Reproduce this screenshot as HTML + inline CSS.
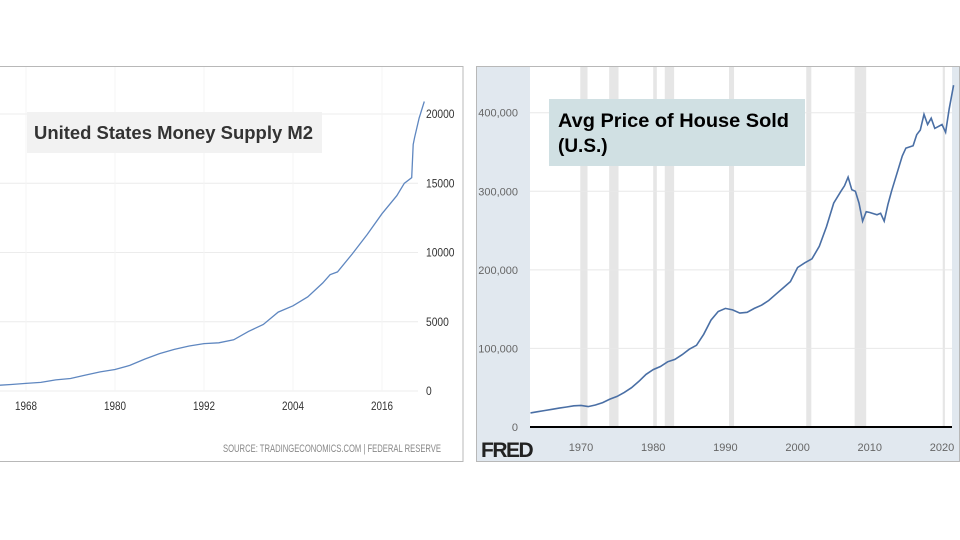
<!DOCTYPE html>
<html><head><meta charset="utf-8">
<style>
body{margin:0;width:960px;height:540px;background:#fff;overflow:hidden;font-family:"Liberation Sans",sans-serif}
svg{position:absolute;left:0;top:0}
</style></head>
<body>
<svg width="960" height="540">
<g id="left">
<rect x="-1" y="66.5" width="464" height="395" fill="#fff" stroke="#b8b8b8"/>
<g id="lgrid"></g>
<rect x="27" y="112" width="295" height="41" fill="#f2f2f2"/>
<text x="34" y="139" font-size="18" font-weight="bold" fill="#333" textLength="279" lengthAdjust="spacingAndGlyphs">United States Money Supply M2</text>
<path id="lline" fill="none" stroke="#5f87c0" stroke-width="1.3"/>
<g id="llabels" font-size="12" fill="#333"></g>
<text x="441" y="452" text-anchor="end" font-size="11" fill="#888" textLength="218" lengthAdjust="spacingAndGlyphs">SOURCE: TRADINGECONOMICS.COM | FEDERAL RESERVE</text>
</g>
<g id="right">
<rect x="476.5" y="66.5" width="483" height="395" fill="#e1e8ef" stroke="#b8b8b8"/>
<rect x="530" y="67" width="422" height="360" fill="#fff"/>
<g id="rrec"></g>
<g id="rgrid"></g>
<rect x="549" y="99" width="256" height="67" fill="#d0e0e3"/>
<text x="558" y="127" font-size="19" font-weight="bold" fill="#000" textLength="231" lengthAdjust="spacingAndGlyphs">Avg Price of House Sold</text>
<text x="558" y="152" font-size="19" font-weight="bold" fill="#000">(U.S.)</text>
<path id="rline" fill="none" stroke="#4a6fa5" stroke-width="1.6"/>
<line x1="530" y1="427" x2="952" y2="427" stroke="#000" stroke-width="2"/>
<g id="rlabels" font-size="11" fill="#666"></g>
<text x="481" y="457" font-size="21" font-weight="bold" fill="#222" letter-spacing="-1.5">FRED</text>
</g>
</svg>
<script>
const m2Years=[1964.5,1966,1968,1970,1972,1974,1976,1978,1980,1982,1984,1986,1988,1990,1992,1994,1996,1998,2000,2002,2004,2006,2008,2009,2010,2012,2014,2016,2018,2019,2020,2020.2,2020.4,2021,2021.7];
const m2Values=[420,470,550,620,800,900,1150,1380,1550,1850,2300,2700,3000,3250,3420,3480,3700,4300,4800,5700,6150,6800,7800,8400,8600,9900,11300,12800,14100,15000,15400,17800,18300,19700,20900];
const m2XTicks=[1968,1980,1992,2004,2016];
const m2YTicks=[0,5000,10000,15000,20000];
const hpYears=[1963,1964,1965,1966,1967,1968,1969,1970,1971,1972,1973,1974,1975,1976,1977,1978,1979,1980,1981,1982,1983,1984,1985,1986,1987,1988,1989,1990,1991,1992,1993,1994,1995,1996,1997,1998,1999,2000,2001,2002,2003,2004,2005,2006,2006.5,2007,2007.5,2008,2008.5,2009,2009.5,2010,2011,2011.5,2012,2012.5,2013,2014,2014.5,2015,2016,2016.5,2017,2017.5,2018,2018.5,2019,2020,2020.5,2021,2021.6];
const hpValues=[18000,19500,21000,22500,24000,25500,27000,27500,26000,28000,31000,35500,39000,44000,50000,58000,67000,73000,77000,83000,86000,92000,99000,104000,118000,136000,147000,151000,149000,145000,146000,151000,155000,161000,169000,177000,185000,203000,209000,214000,230000,255000,285000,300000,307000,318000,302000,300000,285000,262000,274000,273000,270000,272000,262000,283000,300000,330000,345000,355000,358000,372000,378000,398000,385000,393000,380000,385000,375000,405000,435000];
const hpXTicks=[1970,1980,1990,2000,2010,2020];
const hpYTicks=[0,100000,200000,300000,400000];
const hpYTickLabels=["0","100,000","200,000","300,000","400,000"];
const recStarts=[1969.9,1973.9,1980.0,1981.6,1990.5,2001.2,2007.9,2020.1];
const recEnds=[1970.9,1975.2,1980.5,1982.9,1991.2,2001.9,2009.5,2020.4];

const NS="http://www.w3.org/2000/svg";
function mk(tag,attrs,parent,txt){const e=document.createElementNS(NS,tag);for(const k in attrs)e.setAttribute(k,attrs[k]);if(txt!==undefined)e.textContent=txt;parent.appendChild(e);return e;}
const lx=y=>26+(y-1968)*(382-26)/48;
const ly=v=>391-v*(391-114)/20000;
const lg=document.getElementById('lgrid'),ll=document.getElementById('llabels');
m2YTicks.forEach(v=>{
 const l=mk('line',{x1:0,x2:418,y1:ly(v),y2:ly(v),stroke:'#ececec'},lg);
 
 
 const s=String(v);
 const t=mk('text',{x:426,y:ly(v)+4,textLength:s.length*5.7,lengthAdjust:'spacingAndGlyphs'},ll,s);
 
 
});
m2XTicks.forEach(y=>{
 const l=mk('line',{x1:lx(y),x2:lx(y),y1:67,y2:391,stroke:'#f4f4f4'},lg);
 
 
 const t=mk('text',{x:lx(y)-11,y:410,textLength:22,lengthAdjust:'spacingAndGlyphs'},ll,String(y));
 
 
});
document.getElementById('lline').setAttribute('d',m2Years.map((y,i)=>(i?'L':'M')+lx(y).toFixed(1)+','+ly(m2Values[i]).toFixed(1)).join(''));
const rx=y=>581+(y-1970)*(942-581)/50;
const ry=v=>427-v*(427-112.7)/400000;
const rr=document.getElementById('rrec'),rg=document.getElementById('rgrid'),rl=document.getElementById('rlabels');
recStarts.forEach((s,i)=>{
 const r=mk('rect',{x:rx(s),y:67,width:rx(recEnds[i])-rx(s),height:360,fill:'#e6e6e6'},rr);
 
 
});
hpYTicks.forEach((v,i)=>{
 if(v>0){const l=mk('line',{x1:530,x2:952,y1:ry(v),y2:ry(v),stroke:'#e8e8e8'},rg);
 
 }
 const t=mk('text',{x:518,y:ry(v)+4,'text-anchor':'end'},rl,hpYTickLabels[i]);
 
 
});
hpXTicks.forEach(y=>{
 const t=mk('text',{x:rx(y),y:451,'text-anchor':'middle'},rl,String(y));
 
 
});
document.getElementById('rline').setAttribute('d',hpYears.map((y,i)=>(i?'L':'M')+rx(y).toFixed(1)+','+ry(hpValues[i]).toFixed(1)).join(''));
</script>
</body></html>
